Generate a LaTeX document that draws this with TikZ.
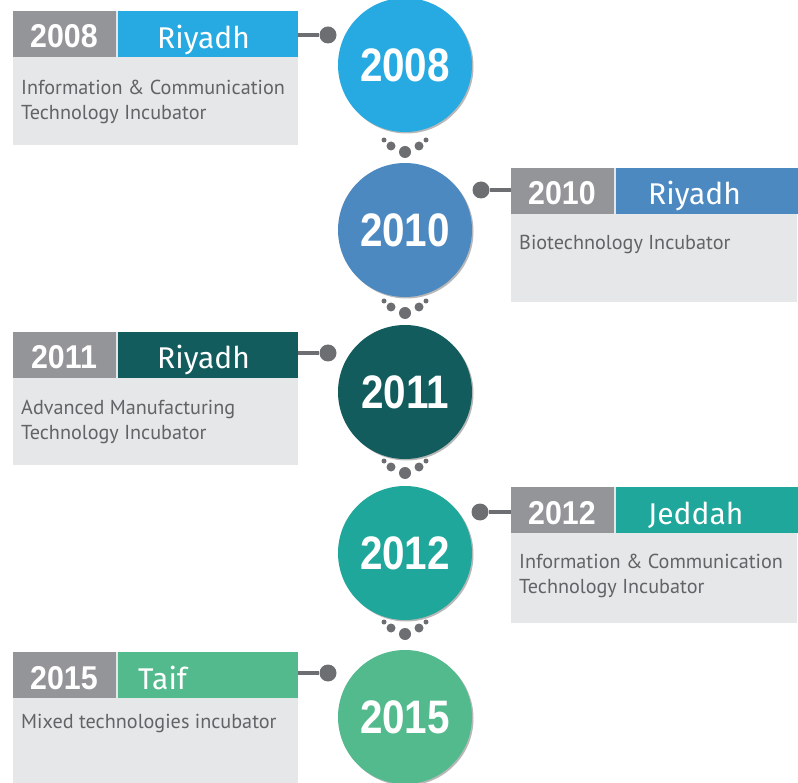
\documentclass[tikz,border=0pt]{standalone}
\usepackage{fontspec}
\setmainfont{Liberation Sans}
\newfontfamily\hdrfont{Liberation Sans}[FakeStretch=0.92]
\newfontfamily\bigfont{Liberation Sans}[FakeStretch=0.86]
\newfontfamily\humfont{Fira Sans}
\newfontfamily\txtfont{PT Sans}
\definecolor{cA}{HTML}{27AAE1}
\definecolor{cB}{HTML}{4D89C1}
\definecolor{cC}{HTML}{125C5E}
\definecolor{cD}{HTML}{1FA79B}
\definecolor{cE}{HTML}{53BA8D}
\definecolor{ygray}{HTML}{939598}
\definecolor{bodyg}{HTML}{E6E7E8}
\definecolor{dkg}{HTML}{6D6E71}
\definecolor{txtg}{HTML}{626366}
\begin{document}
\begin{tikzpicture}[x=1pt,y=-1pt,
  bodybox/.style={fill=bodyg, anchor=north west, minimum width=285pt, inner sep=0pt, outer sep=0pt},
  yearcell/.style={fill=ygray, anchor=north west, minimum width=103pt, minimum height=46pt, inner sep=0pt, outer sep=0pt},
  colcell/.style={anchor=north west, minimum width=180pt, minimum height=46pt, inner sep=0pt, outer sep=0pt},
  yeartxt/.style={anchor=base, text=white, inner sep=0pt, font=\hdrfont\bfseries\fontsize{33}{33}\selectfont},
  citytxt/.style={anchor=base west, text=white, inner sep=0pt, font=\humfont\fontsize{30}{30}\selectfont},
  bodytxt/.style={anchor=base west, text=txtg, inner sep=0pt, font=\txtfont\fontsize{20.2}{20.2}\selectfont},
  ycirc/.style={circle, minimum size=134pt, inner sep=0pt, text=white, font=\bigfont\bfseries\fontsize{47}{47}\selectfont},
  shadowc/.style={fill=black, opacity=0.28},
  cdot/.style={circle, fill=dkg, minimum size=17pt, inner sep=0pt},
  conn/.style={draw=dkg, line width=4.5pt},
  bigdot/.style={circle, fill=dkg, minimum size=12pt, inner sep=0pt},
  middot/.style={circle, fill=dkg, minimum size=9pt, inner sep=0pt},
  smldot/.style={circle, fill=dkg, minimum size=5pt, inner sep=0pt}
]
\useasboundingbox (0,0) rectangle (798,783);

% ---------- circles (with soft shadow) ----------
\fill[shadowc] (406.5,66.5) circle (67pt);
\node[ycirc, fill=cA] (c1) at (405,65) {2008};
\fill[shadowc] (406.5,231.5) circle (67pt);
\node[ycirc, fill=cB] (c2) at (405,230) {2010};
\fill[shadowc] (406.5,393.5) circle (67pt);
\node[ycirc, fill=cC] (c3) at (405,392) {2011};
\fill[shadowc] (406.5,554.5) circle (67pt);
\node[ycirc, fill=cD] (c4) at (405,553) {2012};
\fill[shadowc] (406.5,718.5) circle (67pt);
\node[ycirc, fill=cE] (c5) at (405,717) {2015};

% ---------- dots between circles ----------
\foreach \n/\y in {a/152, b/313, c/473, d/634} {
  \node[bigdot] (g\n0) at (405,\y) {};
  \node[middot] (g\n1) at (391,\y-6) {};
  \node[middot] (g\n2) at (419,\y-6) {};
  \node[smldot] (g\n3) at (384,\y-12) {};
  \node[smldot] (g\n4) at (426,\y-12) {};
}

% ---------- 2008 (left) ----------
\node[bodybox, minimum height=134pt] (b1) at (13,11) {};
\node[yearcell] (y1) at (13,11) {};
\node[colcell, fill=cA] (h1) at (118,11) {};
\node[yeartxt] (t1) at (64,48) {2008};
\node[citytxt] (s1) at (157,49) {Riyadh};
\node[bodytxt] (d1a) at (21,95) {Information \& Communication};
\node[bodytxt] (d1b) at (21,120) {Technology Incubator};
\node[cdot] (k1) at (328,35) {};
\draw[conn] (h1.east |- k1) -- (k1);

% ---------- 2010 (right) ----------
\node[bodybox, minimum height=134pt, minimum width=286pt] (b2) at (511,168) {};
\node[yearcell] (y2) at (511,168) {};
\node[colcell, fill=cB, minimum width=182pt] (h2) at (616,168) {};
\node[yeartxt] (t2) at (562,205) {2010};
\node[citytxt] (s2) at (648,205) {Riyadh};
\node[bodytxt] (d2a) at (519,250) {Biotechnology Incubator};
\node[cdot] (k2) at (481,190) {};
\draw[conn] (k2) -- (y2.west |- k2);

% ---------- 2011 (left) ----------
\node[bodybox, minimum height=133pt] (b3) at (13,332) {};
\node[yearcell] (y3) at (13,332) {};
\node[colcell, fill=cC] (h3) at (118,332) {};
\node[yeartxt] (t3) at (64,369) {2011};
\node[citytxt] (s3) at (157,369) {Riyadh};
\node[bodytxt] (d3a) at (21,414) {Advanced Manufacturing};
\node[bodytxt] (d3b) at (21,439) {Technology Incubator};
\node[cdot] (k3) at (328,353) {};
\draw[conn] (h3.east |- k3) -- (k3);

% ---------- 2012 (right) ----------
\node[bodybox, minimum height=136pt, minimum width=286pt] (b4) at (511,487) {};
\node[yearcell] (y4) at (511,487) {};
\node[colcell, fill=cD, minimum width=182pt] (h4) at (616,487) {};
\node[yeartxt] (t4) at (562,524) {2012};
\node[citytxt] (s4) at (648,524) {Jeddah};
\node[bodytxt] (d4a) at (519,568) {Information \& Communication};
\node[bodytxt] (d4b) at (519,593) {Technology Incubator};
\node[cdot] (k4) at (480,512) {};
\draw[conn] (k4) -- (y4.west |- k4);

% ---------- 2015 (left) ----------
\node[bodybox, minimum height=131pt] (b5) at (13,652) {};
\node[yearcell] (y5) at (13,652) {};
\node[colcell, fill=cE] (h5) at (118,652) {};
\node[yeartxt] (t5) at (64,689) {2015};
\node[citytxt] (s5) at (138,689) {Taif};
\node[bodytxt] (d5a) at (21,728) {Mixed technologies incubator};
\node[cdot] (k5) at (328,673) {};
\draw[conn] (h5.east |- k5) -- (k5);
\end{tikzpicture}
\end{document}
